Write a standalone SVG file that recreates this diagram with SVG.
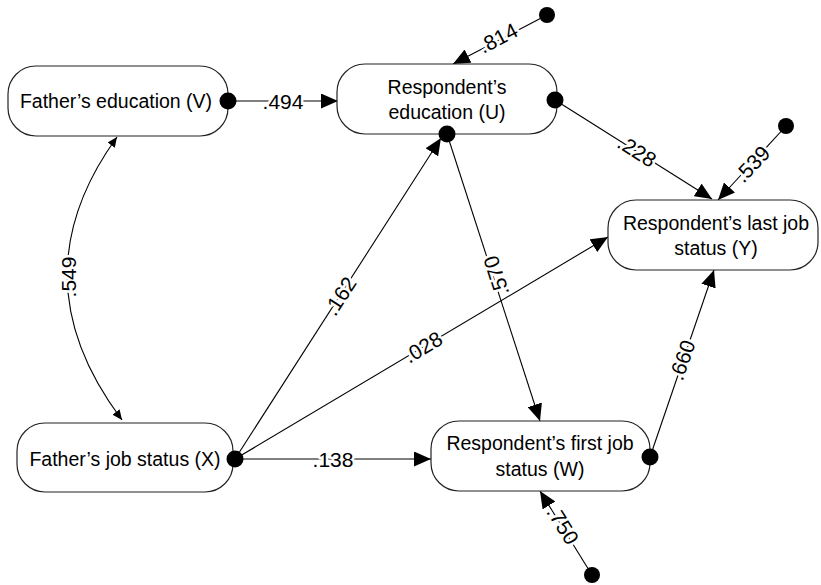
<svg xmlns="http://www.w3.org/2000/svg" width="821" height="585" viewBox="0 0 821 585">
<defs>
<style>
.box{fill:#fff;stroke:#222;stroke-width:1.2}
.nt{font-family:"Liberation Sans",Arial,sans-serif;font-size:19.5px;fill:#000;text-anchor:middle}
.lb{font-family:"Liberation Sans",Arial,sans-serif;font-size:21px;fill:#000;text-anchor:middle;dominant-baseline:central;paint-order:stroke;stroke:#fff;stroke-width:5px;stroke-linejoin:round}
.ln{fill:none;stroke:#000;stroke-width:1.1;marker-end:url(#ah)}
.dot{fill:#000}
</style>
<marker id="ah" markerUnits="userSpaceOnUse" markerWidth="17" markerHeight="15" viewBox="0 0 17 15" refX="17" refY="7.5" orient="auto"><path d="M0,0 L17,7.5 L0,15 z" fill="#000"/></marker>
<marker id="sh" markerUnits="userSpaceOnUse" markerWidth="10" markerHeight="9" viewBox="0 0 10 9" refX="10" refY="4.5" orient="auto-start-reverse"><path d="M0,0 L10,4.5 L0,9 z" fill="#000"/></marker>
</defs>
<g id="connectors">
<path class="ln" d="M236,101 L338,101"/>
<path class="ln" d="M547,15 L453,64"/>
<path class="ln" d="M555,100 L712,199"/>
<path class="ln" d="M786,126 L718,200"/>
<path class="ln" d="M235,459 L441,138"/>
<path class="ln" d="M235,459 L608,237"/>
<path class="ln" d="M235,459 L431,459"/>
<path class="ln" d="M447,134 L540,421"/>
<path class="ln" d="M650,457 L714,270"/>
<path class="ln" d="M592,575 L540,491"/>
<path d="M117,137 Q15,278 122,420" fill="none" stroke="#000" stroke-width="1.1" marker-start="url(#sh)" marker-end="url(#sh)"/>
<circle class="dot" cx="547" cy="15" r="8"/>
<circle class="dot" cx="786" cy="126" r="8"/>
<circle class="dot" cx="592" cy="575" r="8"/>
<text class="lb" x="283" y="101">.494</text>
<text class="lb" transform="translate(498,38) rotate(-27.5)">.814</text>
<text class="lb" transform="translate(637,151) rotate(32)">.228</text>
<text class="lb" transform="translate(752,164) rotate(-47)">.539</text>
<text class="lb" transform="translate(340,296) rotate(-57)">.162</text>
<text class="lb" transform="translate(423,347) rotate(-31)">.028</text>
<text class="lb" transform="translate(496,276) rotate(-108)">.570</text>
<text class="lb" x="333" y="459">.138</text>
<text class="lb" transform="translate(682,360) rotate(-71)">.660</text>
<text class="lb" transform="translate(563,525) rotate(58)">.750</text>
<text class="lb" transform="translate(68,277) rotate(-90)">.549</text>
</g>
<g id="V">
<rect class="box" x="8" y="66" width="220" height="70" rx="28"/>
<text class="nt" x="116" y="108">Father’s education (V)</text>
<circle class="dot" cx="228" cy="101" r="8.5"/>
</g>
<g id="U">
<rect class="box" x="337" y="64" width="220" height="70" rx="28"/>
<text class="nt" x="447" y="94">Respondent’s</text>
<text class="nt" x="447" y="119">education (U)</text>
<circle class="dot" cx="555" cy="100" r="8.5"/>
<circle class="dot" cx="447" cy="134" r="8.5"/>
</g>
<g id="Y">
<rect class="box" x="608" y="200" width="210" height="70" rx="28"/>
<text class="nt" x="716" y="230">Respondent’s last job</text>
<text class="nt" x="716" y="255">status (Y)</text>
</g>
<g id="X">
<rect class="box" x="17" y="423" width="216" height="69" rx="28"/>
<text class="nt" x="125" y="466">Father’s job status (X)</text>
<circle class="dot" cx="235" cy="459" r="8.5"/>
</g>
<g id="W">
<rect class="box" x="431" y="421" width="219" height="70" rx="28"/>
<text class="nt" x="540" y="450">Respondent’s first job</text>
<text class="nt" x="540" y="476">status (W)</text>
<circle class="dot" cx="650" cy="457" r="8.5"/>
</g>
</svg>
